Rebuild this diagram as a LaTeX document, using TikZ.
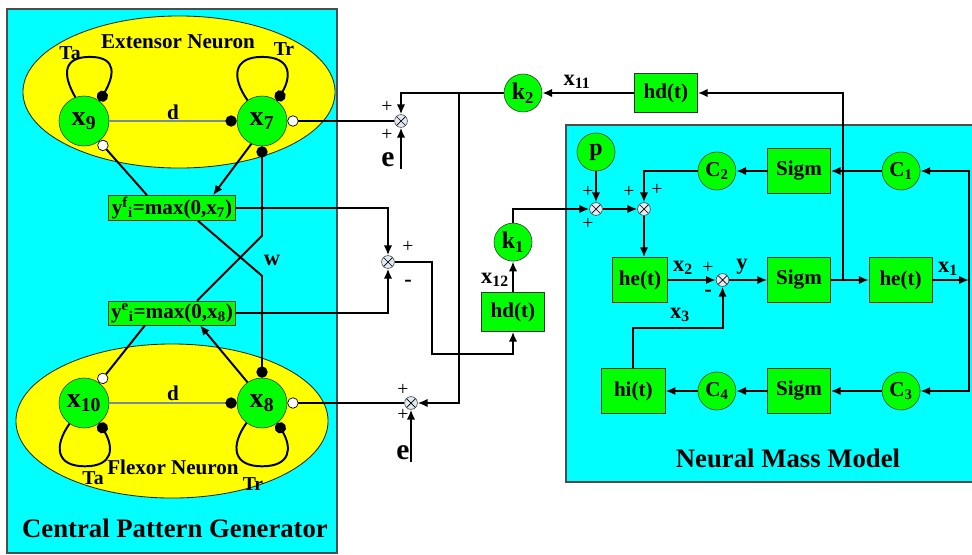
\documentclass[tikz,border=0pt]{standalone}
\usepackage{fontspec}
\setmainfont{Liberation Serif}
\usetikzlibrary{arrows.meta, positioning, shapes.geometric}

\definecolor{cpgcyan}{RGB}{0,255,255}
\definecolor{neuyellow}{RGB}{255,255,0}
\definecolor{blockgreen}{RGB}{0,255,0}
\definecolor{dgray}{RGB}{120,138,158}
\definecolor{sumfill}{RGB}{226,233,242}

\begin{document}
\begin{tikzpicture}[x=0.025cm, y=-0.025cm,
    panel/.style={fill=cpgcyan, draw=black!70, line width=0.8pt},
    area/.style={ellipse, draw=black!85, fill=neuyellow, line width=0.6pt, minimum width=7.8cm, minimum height=3.8cm},
    unit/.style={circle, draw=black!80, fill=blockgreen, minimum size=1.25cm, inner sep=0pt, font={\fontsize{20}{20}\selectfont\bfseries}},
    gain/.style={circle, draw=black!80, fill=blockgreen, minimum size=0.95cm, inner sep=0pt, font={\fontsize{17}{17}\selectfont\bfseries}},
    block/.style={rectangle, draw=black!80, fill=blockgreen, minimum width=1.575cm, minimum height=1.125cm, inner sep=1pt, font={\fontsize{15}{15}\selectfont\bfseries}},
    relu/.style={rectangle, draw=black!80, fill=blockgreen, minimum width=3.175cm, minimum height=0.6cm, inner sep=1pt, font={\fontsize{15}{15}\selectfont\bfseries}},
    summer/.style={circle, draw=black!80, fill=sumfill, minimum size=0.32cm, inner sep=0pt,
        path picture={\draw[black, line width=0.5pt] (path picture bounding box.north west) -- (path picture bounding box.south east)
            (path picture bounding box.north east) -- (path picture bounding box.south west);}},
    lbl/.style={inner sep=1pt, font={\fontsize{16}{16}\selectfont\bfseries}},
    pm/.style={inner sep=0pt, font={\fontsize{14}{14}\selectfont}},
    sig/.style={line width=1.4pt},
    arr/.style={sig, -{Latex[length=7pt, width=6pt]}},
    inh/.style={sig, -{Circle[length=8pt]}},
    exc/.style={sig, -{Circle[length=8pt, fill=white, line width=0.5pt]}},
    dline/.style={line width=1.4pt, draw=dgray, -{Circle[length=8pt, color=black]}}
]
\useasboundingbox (0,0) rectangle (972,554);

% panels
\draw[panel] (7,9) rectangle (337,553);
\draw[panel] (566,125) rectangle (975,482);

\node[area] (ext) at (179,92) {};
\node[area, minimum height=3.85cm] (flx) at (172,421) {};

% central pattern generator
\node[unit] (x9) at (84,121) {x\textsubscript{9}};
\node[unit] (x7) at (262,121) {x\textsubscript{7}};
\node[unit] (x10) at (84,403) {x\textsubscript{10}};
\node[unit] (x8) at (262,403) {x\textsubscript{8}};
\node[relu] (yf) at (172,208) {y\textsuperscript{f}\textsubscript{i}=max(0,x\textsubscript{7})};
\node[relu] (ye) at (172,313) {y\textsuperscript{e}\textsubscript{i}=max(0,x\textsubscript{8})};

\node[lbl, font={\fontsize{15}{15}\selectfont\bfseries}] (extname) at (178,42) {Extensor Neuron};
\node[lbl, font={\fontsize{15}{15}\selectfont\bfseries}] (flxname) at (173,467) {Flexor Neuron};
\node[lbl, font={\fontsize{19}{19}\selectfont\bfseries}] (cpgname) at (175,528) {Central Pattern Generator};
\node[lbl, font={\fontsize{14}{14}\selectfont\bfseries}] (ta1) at (70,53) {Ta};
\node[lbl, font={\fontsize{14}{14}\selectfont\bfseries}] (tr1) at (284,49) {Tr};
\node[lbl, font={\fontsize{14}{14}\selectfont\bfseries}] (ta2) at (93,478) {Ta};
\node[lbl, font={\fontsize{14}{14}\selectfont\bfseries}] (tr2) at (253,484) {Tr};
\node[lbl, font={\fontsize{15}{15}\selectfont\bfseries}] (d1) at (173,112) {d};
\node[lbl, font={\fontsize{15}{15}\selectfont\bfseries}] (d2) at (173,393) {d};
\node[lbl] (w) at (272,260) {w};

% summing points
\node[summer] (s1) at (401,121) {};
\node[summer] (s2) at (388,262) {};
\node[summer] (s3) at (411,403) {};
\node[lbl, font={\fontsize{21}{21}\selectfont\bfseries}] (e1) at (388,160) {e};
\node[lbl, font={\fontsize{21}{21}\selectfont\bfseries}] (e2) at (403,453) {e};
\node[pm] (pl1) at (387,107) {+};
\node[pm] (pl2) at (387,135) {+};
\node[pm] (pl3) at (408,247) {+};
\node[lbl] (mi1) at (408,283) {-};
\node[pm] (pl4) at (403,390) {+};
\node[pm] (pl5) at (403,415) {+};

% delays and gains
\node[gain] (k2) at (523,93) {k\textsubscript{2}};
\node[block, minimum height=0.975cm] (hdt) at (666,93) {hd(t)};
\node[block, minimum height=0.975cm] (hdb) at (513,312) {hd(t)};
\node[gain, above=0.77cm of hdb] (k1) {k\textsubscript{1}};
\node[lbl] (x11) at (577,82) {x\textsubscript{11}};
\node[lbl] (x12) at (495,280) {x\textsubscript{12}};

% neural mass model
\node[gain] (p) at (596,152) {p};
\node[summer] (s4) at (596,209) {};
\node[summer] (s5) at (644,209) {};
\node[block] (sg1) at (799,171) {Sigm};
\node[gain, font={\fontsize{15}{15}\selectfont\bfseries}, left=0.775cm of sg1] (c2) {C\textsubscript{2}};
\node[gain, font={\fontsize{15}{15}\selectfont\bfseries}, right=1.275cm of sg1] (c1) {C\textsubscript{1}};
\node[block] (sg2) at (799,280) {Sigm};
\node[summer, left=0.95cm of sg2] (s6) {};
\node[block, minimum width=1.375cm] (he1) at (640,280) {he(t)};
\node[block, right=0.95cm of sg2] (he2) {he(t)};
\node[block] (sg3) at (799,391) {Sigm};
\node[gain, font={\fontsize{15}{15}\selectfont\bfseries}, left=0.775cm of sg3] (c4) {C\textsubscript{4}};
\node[gain, font={\fontsize{15}{15}\selectfont\bfseries}, right=1.275cm of sg3] (c3) {C\textsubscript{3}};
\node[block, minimum width=1.6cm, left=0.8cm of c4] (hi) {hi(t)};
\node[lbl, font={\fontsize{19}{19}\selectfont\bfseries}] (nmmname) at (788,458) {Neural Mass Model};
\node[lbl] (x2) at (683,268) {x\textsubscript{2}};
\node[lbl] (x3) at (680,315) {x\textsubscript{3}};
\node[lbl] (x1) at (948,269) {x\textsubscript{1}};
\node[lbl] (yy) at (742,267) {y};
\node[pm] (pl6) at (588,192) {+};
\node[pm] (pl7) at (588,224) {+};
\node[pm] (pl8) at (629,192) {+};
\node[pm] (pl9) at (657,190) {+};
\node[pm] (pl10) at (708,268) {+};
\node[lbl] (mi2) at (708,293) {-};

\coordinate (j1) at (459,93);
\coordinate (j2) at (843,280);
\coordinate (rt) at (969,280);

% loops and couplings inside the generator
\draw[inh] (x9.110) to[out=120, in=180, looseness=1.6] ([xshift=0.15cm, yshift=0.97cm]x9.north)
    to[out=0, in=60, looseness=1.6] (x9.52);
\draw[inh] (x7.125) to[out=125, in=180, looseness=1.6] ([yshift=0.97cm]x7.north)
    to[out=0, in=60, looseness=1.6] (x7.53);
\draw[inh] (x10.-125) to[out=-125, in=180, looseness=1.6] ([xshift=0.02cm, yshift=-0.95cm]x10.south)
    to[out=0, in=-60, looseness=1.6] (x10.-52);
\draw[inh] (x8.-128) to[out=-125, in=180, looseness=1.6] ([yshift=-0.95cm]x8.south)
    to[out=0, in=-60, looseness=1.6] (x8.-52);
\draw[dline] (x9) -- (x7);
\draw[dline] (x10) -- (x8);
\draw[exc] ([xshift=-0.625cm]yf.north) -- (x9.-53);
\draw[arr] (x7.-115) -- ([xshift=1.025cm]yf.north);
\draw[inh] ([xshift=0.625cm]ye.north) -- ++(65,-65) -- (x7.south);
\draw[inh] ([xshift=0.65cm]yf.south) -- ++(64,55) -- (x8.north);
\draw[exc] ([xshift=-0.675cm]ye.south) -- (x10.53);
\draw[arr] (x8.125) -- ([xshift=0.7cm]ye.south);

% outputs to the summing points
\draw[exc] (s1) -- (x7);
\draw[exc] (s3) -- (x8);
\draw[arr] (yf) -| (s2);
\draw[arr] (ye) -| (s2);
\draw[arr] (s2) -| ++(44,92) -| (hdb);
\draw[arr] (e1.south -| s1) -- (s1);
\draw[arr] (e2.south -| s3) -- (s3);
\draw[arr] (hdt) -- (k2);
\draw[arr] (k2) -| (s1);
\draw[arr] (j1) |- (s3);
\draw[arr] (hdb) -- (k1);
\draw[arr] (k1) |- (s4);

% neural mass model
\draw[arr] (p) -- (s4);
\draw[arr] (s4) -- (s5);
\draw[arr] (c2) -| (s5);
\draw[arr] (s5) -- (s5 |- he1.north);
\draw[arr] (he1) -- (s6);
\draw[arr] (hi) -- ++(0,-63) -| (s6);
\draw[arr] (s6) -- (sg2);
\draw[arr] (sg2) -- (he2);
\draw[arr] (j2) |- (hdt);
\draw[arr] (he2) -- (rt);
\draw[arr] (rt) |- (c1);
\draw[arr] (rt) |- (c3);
\draw[arr] (c1) -- (sg1);
\draw[arr] (sg1) -- (c2);
\draw[arr] (c3) -- (sg3);
\draw[arr] (sg3) -- (c4);
\draw[arr] (c4) -- (hi);

\end{tikzpicture}
\end{document}
